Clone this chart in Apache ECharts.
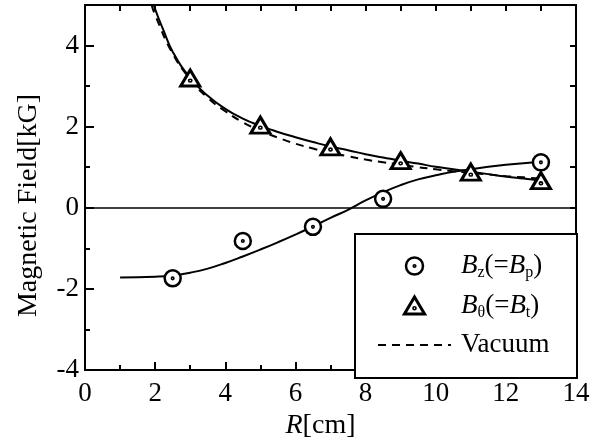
<!DOCTYPE html>
<html>
<head>
<meta charset="utf-8">
<script src="https://cdn.jsdelivr.net/npm/echarts@6/dist/echarts.min.js"></script>
<style>
  html, body { margin: 0; padding: 0; background: #fff; }
  #chart { width: 600px; height: 438px; }
</style>
</head>
<body>
<div id="chart"></div>
<script>
// measured points
var bzR = [2.5, 4.5, 6.5, 8.5, 13]
var bzVal = [-1.74, -0.82, -0.47, 0.22, 1.12]
var btR = [3, 5, 7, 9, 11, 13]
var btVal = [3.2, 2.04, 1.5, 1.16, 0.88, 0.67]

// fitted curves
var bzFitR = [1, 2, 2.5, 3, 3.5, 4, 4.5, 5, 5.5, 6, 6.5, 7, 7.5, 8, 8.5, 9, 9.5, 10, 10.5, 11, 11.5, 12, 12.5, 13]
var bzFitVal = [-1.72, -1.70, -1.67, -1.6, -1.5, -1.36, -1.2, -1.03, -0.85, -0.66, -0.46, -0.25, -0.05, 0.18, 0.38, 0.56, 0.7, 0.8, 0.89, 0.95, 1.01, 1.06, 1.1, 1.13]
var btFitR = [1.9, 2.0, 2.25, 2.5, 3, 3.5, 4, 4.5, 5, 5.5, 6, 6.5, 7, 7.5, 8, 8.5, 9, 9.5, 10, 10.5, 11, 11.5, 12, 12.5, 13]
var btFitVal = [5.2, 4.9, 4.35, 3.85, 3.2, 2.76, 2.44, 2.2, 2.02, 1.87, 1.74, 1.62, 1.51, 1.42, 1.32, 1.24, 1.16, 1.09, 1.01, 0.95, 0.89, 0.83, 0.77, 0.72, 0.67]
var vacR = [1.9, 2.0, 2.5, 3, 3.5, 4, 4.5, 5, 5.5, 6, 6.5, 7, 7.5, 8, 8.5, 9, 9.5, 10, 10.5, 11, 11.5, 12, 12.5, 13]
var vacVal = [5.0, 4.75, 3.8, 3.17, 2.71, 2.38, 2.11, 1.9, 1.73, 1.58, 1.46, 1.36, 1.27, 1.19, 1.12, 1.06, 1.0, 0.95, 0.9, 0.86, 0.82, 0.78, 0.75, 0.72]

function pares(xs, ys) {
    return xs.map(function (x, i) { return [x, ys[i]] })
}

var circulo = 'path://M0,-8A8,8,0,1,1,0,8A8,8,0,1,1,0,-8Z M0,-0.8A0.8,0.8,0,1,1,0,0.8A0.8,0.8,0,1,1,0,-0.8Z'
var triangulo = 'path://M0,0L9.5,16L-9.5,16Z M0,9.8A0.8,0.8,0,1,1,0,11.4A0.8,0.8,0,1,1,0,9.8Z'

var fuente = 'Liberation Serif'
var chart = echarts.init(document.getElementById('chart'), null, { renderer: 'canvas' })

var ejeLinea = { show: true, onZero: false, lineStyle: { color: '#000', width: 2 } }

var option = {
    animation: false,
    backgroundColor: '#fff',
    grid: { left: 85, right: 24, top: 5, bottom: 68, containLabel: false, outerBoundsMode: 'none' },
    xAxis: [
        {
            type: 'value', min: 0, max: 14, interval: 2,
            axisLine: ejeLinea,
            axisTick: { show: true, inside: true, length: 8, lineStyle: { color: '#000', width: 2 } },
            minorTick: { show: true, splitNumber: 2, length: 5, lineStyle: { color: '#000', width: 2 } },
            splitLine: { show: false },
            axisLabel: { color: '#000', fontFamily: fuente, fontSize: 27, margin: 10 },
            name: '{i|R}[cm]',
            nameLocation: 'middle',
            nameGap: 33,
            nameTextStyle: {
                color: '#000', fontFamily: fuente, fontSize: 28, padding: [0, 20, 0, 0],
                rich: { i: { fontFamily: fuente, fontSize: 28, fontStyle: 'italic', color: '#000' } }
            }
        },
        {
            type: 'value', position: 'top', min: 0, max: 14, interval: 1,
            axisLine: ejeLinea,
            axisTick: { show: true, inside: true, length: 6, lineStyle: { color: '#000', width: 2 } },
            axisLabel: { show: false },
            splitLine: { show: false }
        }
    ],
    yAxis: [
        {
            type: 'value', min: -4, max: 5, interval: 2,
            axisLine: ejeLinea,
            axisTick: { show: true, inside: true, length: 9, lineStyle: { color: '#000', width: 2 } },
            splitLine: { show: false },
            axisLabel: { color: '#000', fontFamily: fuente, fontSize: 27, margin: 6, showMaxLabel: false },
            name: 'Magnetic Field[kG]',
            nameLocation: 'middle',
            nameGap: 42,
            nameRotate: 90,
            nameTextStyle: { color: '#000', fontFamily: fuente, fontSize: 28, padding: [0, 36, 0, 0] }
        },
        {
            type: 'value', position: 'left', min: -4, max: 5, interval: 1,
            axisLine: { show: false, onZero: false },
            axisTick: { show: true, inside: true, length: 5, lineStyle: { color: '#000', width: 2 } },
            axisLabel: { show: false },
            splitLine: { show: false }
        },
        {
            type: 'value', position: 'right', min: -4, max: 5, interval: 1,
            axisLine: ejeLinea,
            axisTick: { show: true, inside: true, length: 6, lineStyle: { color: '#000', width: 2 } },
            axisLabel: { show: false },
            splitLine: { show: false }
        }
    ],
    legend: {
        orient: 'vertical',
        left: 377,
        top: 251,
        padding: 0,
        itemWidth: 73,
        itemHeight: 17,
        itemGap: 9.5,
        z: 100,
        selectedMode: false,
        data: [
            { name: 'Bz', itemStyle: { color: '#fff', borderColor: '#000', borderWidth: 2.5 } },
            { name: 'Bt', itemStyle: { color: '#fff', borderColor: '#000', borderWidth: 3 } },
            { name: 'Vacuum', itemStyle: { opacity: 0 } }
        ],
        formatter: function (name) {
            if (name === 'Bz') return '{i|B}{s|z}(={i|B}{s|p})'
            if (name === 'Bt') return '{i|B}{s|θ}(={i|B}{s|t})'
            return 'Vacuum'
        },
        textStyle: {
            color: '#000', fontFamily: fuente, fontSize: 27, lineHeight: 30, padding: [0, 0, 0, 5],
            rich: {
                i: { fontFamily: fuente, fontSize: 27, fontStyle: 'italic', color: '#000', lineHeight: 30 },
                s: { fontFamily: fuente, fontSize: 16, color: '#000', lineHeight: 14, verticalAlign: 'bottom' }
            }
        }
    },
    graphic: [
        {
            type: 'rect', z: 50,
            shape: { x: 355, y: 234, width: 222, height: 144 },
            style: { fill: '#fff', stroke: '#000', lineWidth: 2 }
        }
    ],
    series: [
        {
            name: 'Bz fit', type: 'line', data: pares(bzFitR, bzFitVal),
            smooth: true, symbol: 'none', z: 3,
            lineStyle: { color: '#000', width: 2 },
            markLine: {
                silent: true, symbol: 'none', label: { show: false },
                lineStyle: { color: '#000', width: 1.5, type: 'solid' },
                data: [{ yAxis: 0 }]
            }
        },
        {
            name: 'Bt fit', type: 'line', data: pares(btFitR, btFitVal),
            smooth: true, symbol: 'none', z: 3,
            lineStyle: { color: '#000', width: 2 }
        },
        {
            name: 'Vacuum', type: 'line', data: pares(vacR, vacVal),
            smooth: true, symbol: 'none', z: 3,
            itemStyle: { color: '#000' },
            lineStyle: { color: '#000', width: 2, type: [8, 6] }
        },
        {
            name: 'Bz', type: 'scatter', data: pares(bzR, bzVal),
            symbol: circulo, symbolSize: [16, 16], z: 5,
            itemStyle: { color: '#fff', borderColor: '#000', borderWidth: 2.5, opacity: 1 }
        },
        {
            name: 'Bt', type: 'scatter', data: pares(btR, btVal),
            symbol: triangulo, symbolSize: [19, 16], z: 5,
            itemStyle: { color: '#fff', borderColor: '#000', borderWidth: 3, opacity: 1 }
        }
    ]
}

chart.setOption(option)
window.addEventListener('resize', chart.resize)
</script>
</body>
</html>
